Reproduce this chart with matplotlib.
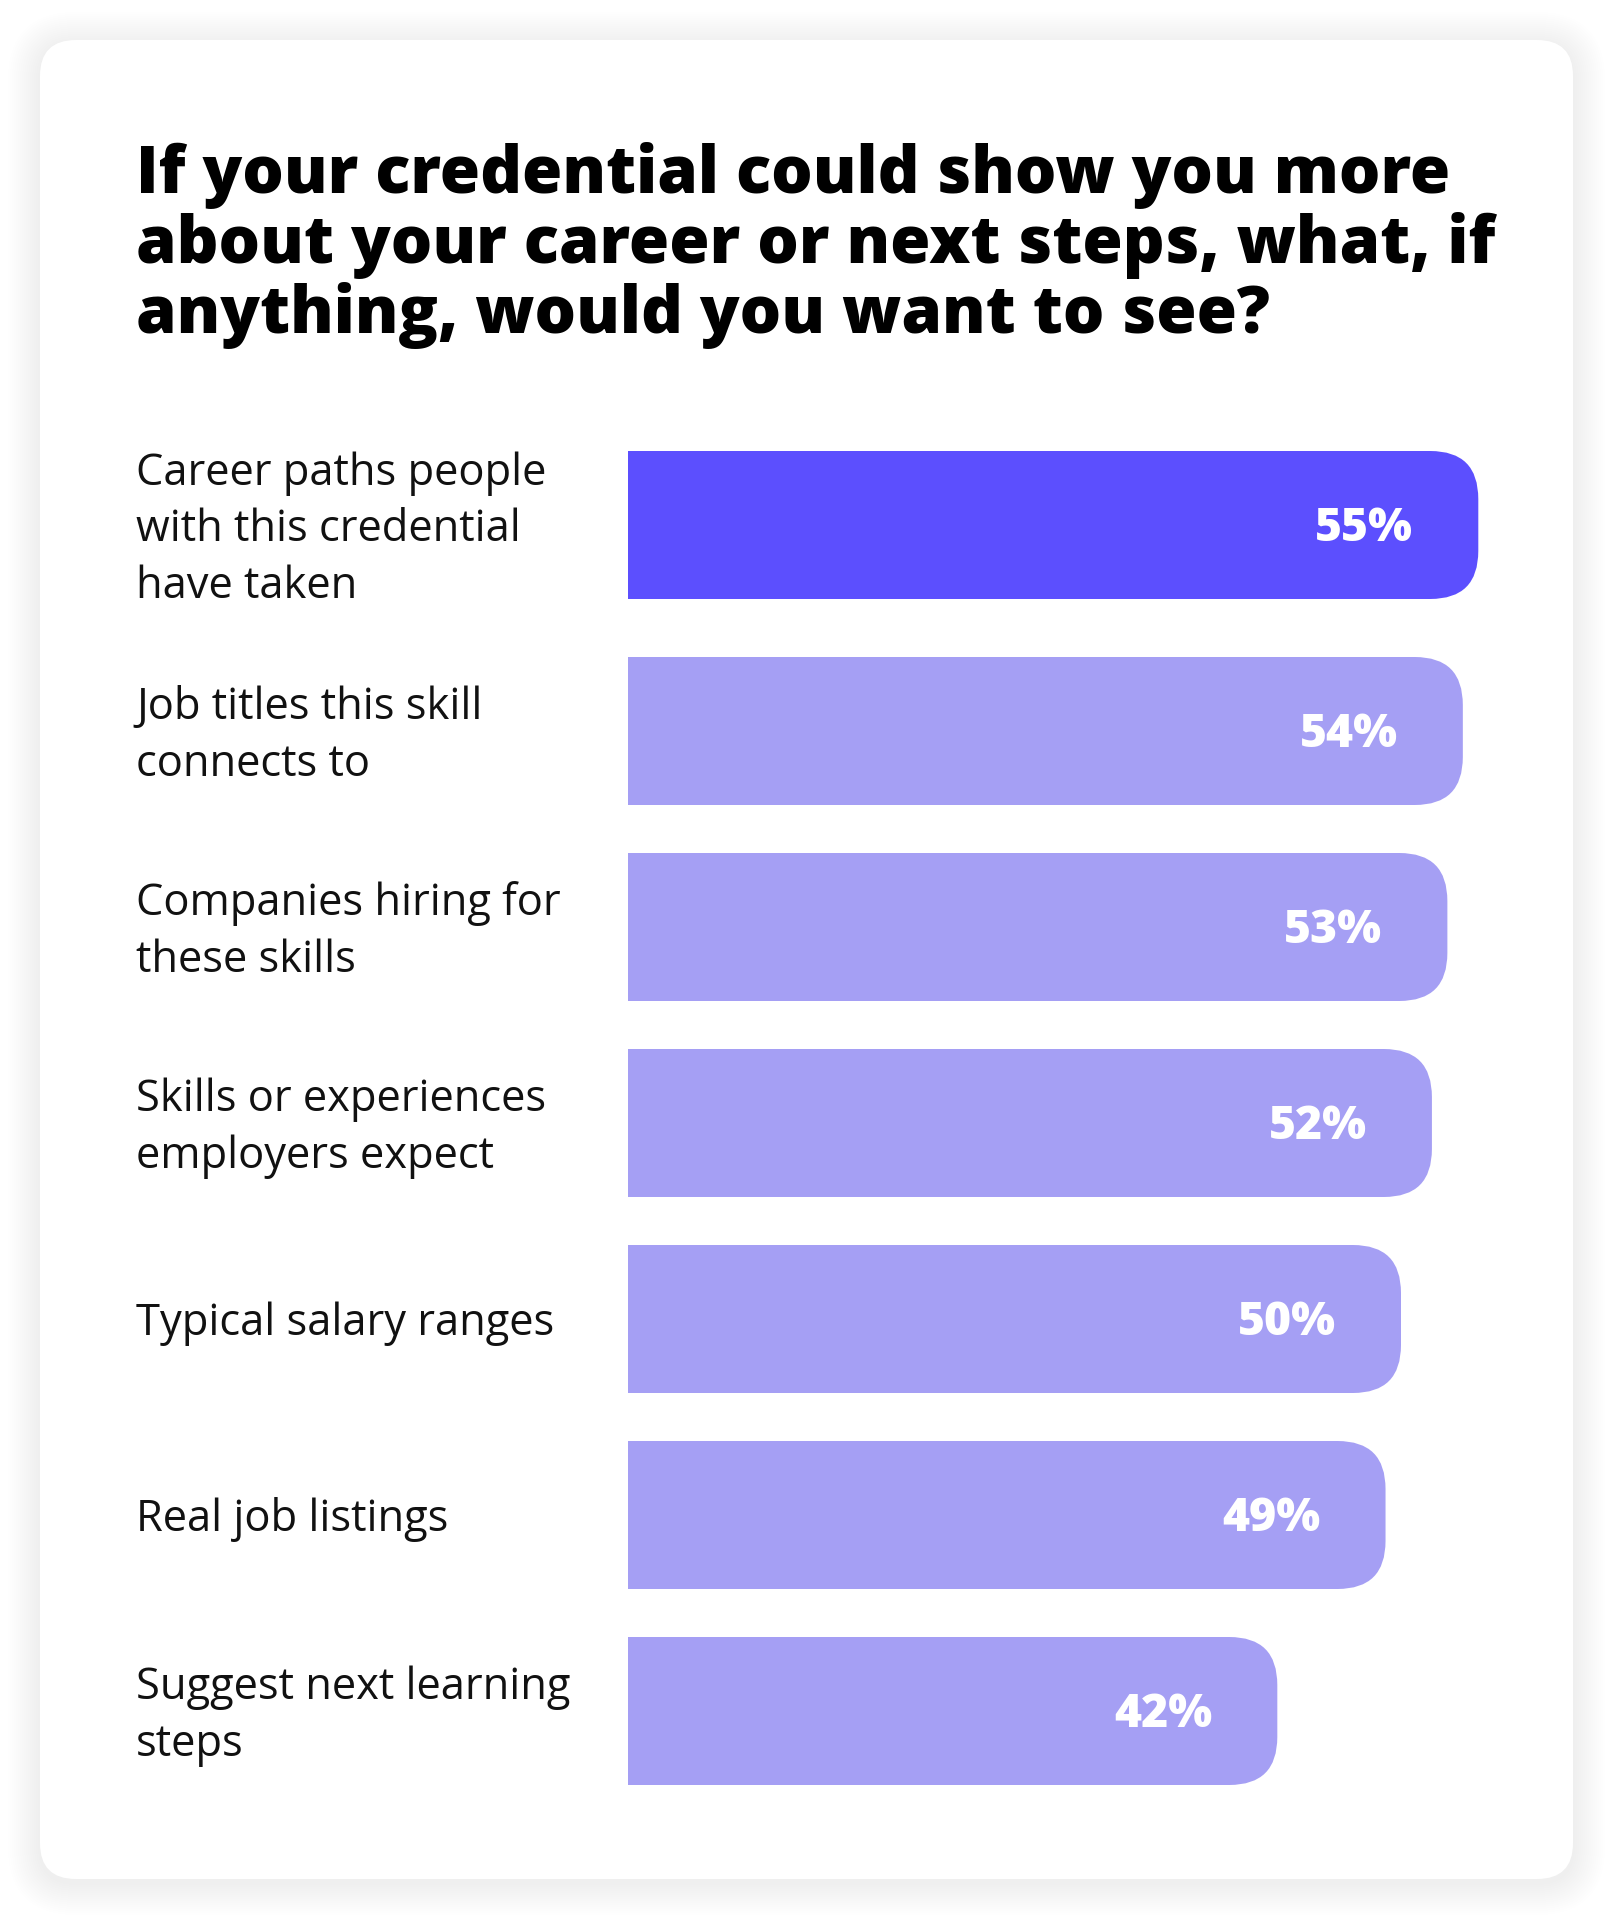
import matplotlib
matplotlib.use("Agg")
import matplotlib.pyplot as plt
from matplotlib.patches import FancyBboxPatch
from matplotlib.transforms import blended_transform_factory, offset_copy
import numpy as np

# canvas size in pixels
W, H = 1616, 1922
DPI = 100

# chart data
title_lines = ["If your credential could show you more",
               "about your career or next steps, what, if",
               "anything, would you want to see?"]
categories = ["Career paths people\nwith this credential\nhave taken",
              "Job titles this skill\nconnects to",
              "Companies hiring for\nthese skills",
              "Skills or experiences\nemployers expect",
              "Typical salary ranges",
              "Real job listings",
              "Suggest next learning\nsteps"]
values = [55, 54, 53, 52, 50, 49, 42]

HIGHLIGHT = "#5C4FFE"
OTHER = "#A59FF4"
TITLE_FONT = "Open Sans"
LABEL_FONT = "Open Sans"

fig = plt.figure(figsize=(W / DPI, H / DPI), dpi=DPI)
fig.patch.set_facecolor("white")

# background axes in pixel units (y going down)
bg = fig.add_axes([0, 0, 1, 1])
bg.set_xlim(0, W)
bg.set_ylim(H, 0)
bg.axis("off")

# soft card shadow + card
card_x, card_y, card_w, card_h = 40, 40, 1533, 1839
for i in range(16):
    pad = 2 + i * 2
    bg.add_patch(FancyBboxPatch((card_x - pad, card_y - pad + 4), card_w + 2 * pad, card_h + 2 * pad,
                                boxstyle=f"round,pad=0,rounding_size={36 + pad}",
                                fc="black", ec="none", alpha=0.005))
bg.add_patch(FancyBboxPatch((card_x, card_y), card_w, card_h,
                            boxstyle="round,pad=0,rounding_size=36",
                            fc="white", ec="none"))

renderer = fig.canvas.get_renderer()

def fit_width(txt, target):
    w = txt.get_window_extent(renderer).width
    txt.set_fontsize(txt.get_fontsize() * target / w)
    return txt.get_fontsize()

# title
baselines = [193, 263, 333]
t0 = bg.text(136, baselines[0], title_lines[0], fontsize=48, family=TITLE_FONT,
             weight=800, color="black", va="baseline", ha="left")
tsize = fit_width(t0, 1311)
for line, yb in zip(title_lines[1:], baselines[1:]):
    bg.text(136, yb, line, fontsize=tsize, family=TITLE_FONT, weight=800,
            color="black", va="baseline", ha="left")

# bar axes: x in percent, y in category slots
px_per_pct = 15.46
bar_left = 628
xmax = 60
slot = 196.0
ax_top, ax_bot = 400, 1830
y = np.arange(len(values), dtype=float)
y[0] -= 10 / slot
y_top = 1 - (731 - ax_top) / slot
y_bot = 1 + (ax_bot - 731) / slot
ax = fig.add_axes([bar_left / W, (H - ax_bot) / H, xmax * px_per_pct / W, (ax_bot - ax_top) / H])
ax.set_xlim(0, xmax)
ax.set_ylim(y_bot, y_top)
ax.axis("off")

bh = 148 / slot
radius_px = 48
rx = radius_px / px_per_pct
aspect = (radius_px / slot) / rx
colors = [HIGHLIGHT] + [OTHER] * (len(values) - 1)

# square left part from barh, rounded right end as a patch
ax.barh(y, np.array(values) - rx, height=bh, color=colors, left=0, linewidth=0)
for yi, v, c in zip(y, values, colors):
    ax.add_patch(FancyBboxPatch((v - 2 * rx, yi - bh / 2), 2 * rx, bh,
                                boxstyle=f"round,pad=0,rounding_size={rx}",
                                mutation_aspect=aspect, fc=c, ec="none"))

# value labels
probe = ax.text(0, 0, "55%", fontsize=34, family=TITLE_FONT, weight=800)
vsize = fit_width(probe, 98)
probe.remove()
cap = vsize * DPI / 72 * 0.71
for yi, v in zip(y, values):
    ax.annotate(f"{v}%", xy=(v, yi), xytext=(-65, -cap / 2), textcoords="offset pixels",
                ha="right", va="baseline", fontsize=vsize, family=TITLE_FONT,
                weight=800, color="white")

# category labels
probe = ax.text(0, 0, "Suggest next learning", fontsize=27, family=LABEL_FONT, weight=500)
lsize = fit_width(probe, 437)
probe.remove()
label_tr = offset_copy(blended_transform_factory(fig.transFigure, ax.transData),
                       fig=fig, x=0, y=-5, units="dots")
for yi, lab in zip(y, categories):
    ax.text(136 / W, yi, lab, transform=label_tr,
            ha="left", va="center", fontsize=lsize, family=LABEL_FONT, weight=500,
            color="#111111", linespacing=1.36)

fig.savefig("out.png", dpi=DPI, facecolor="white")
